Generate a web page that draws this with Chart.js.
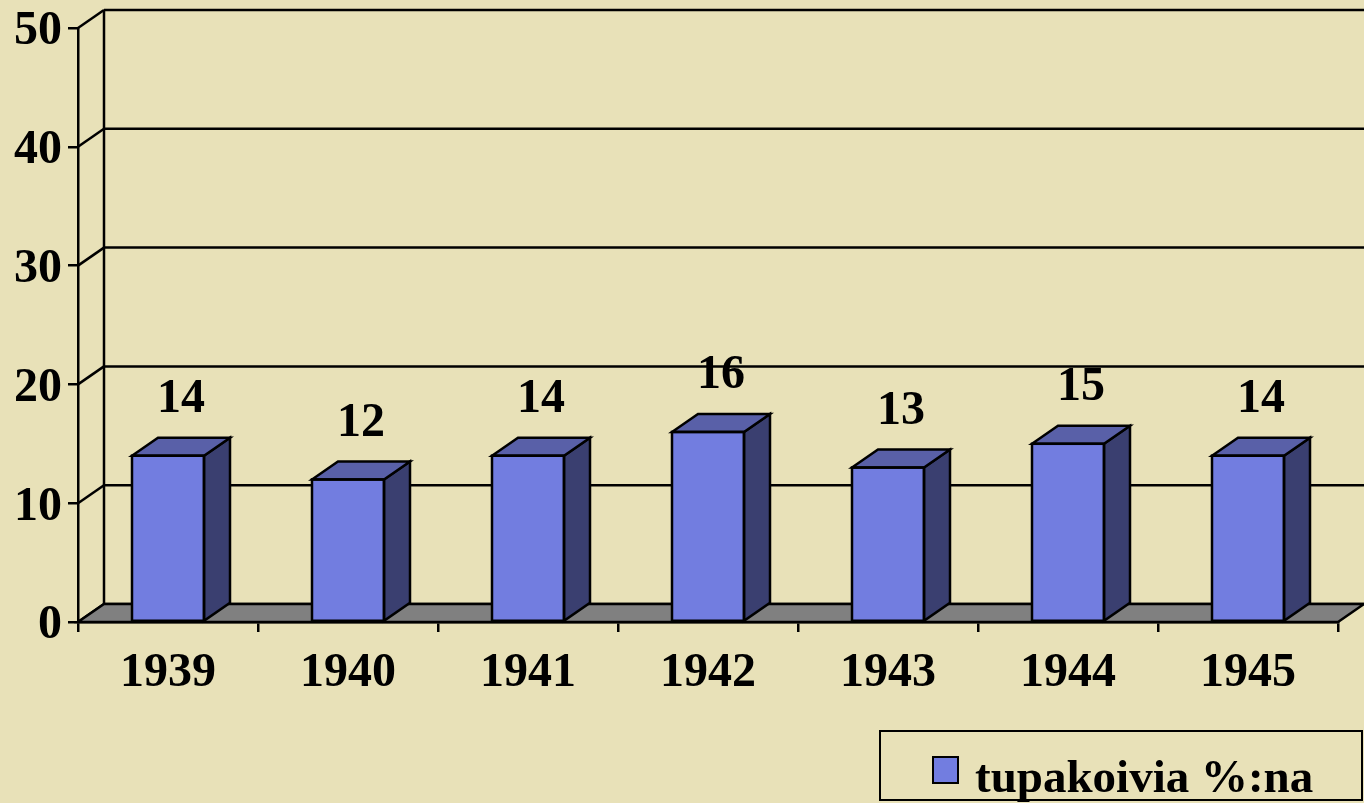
<!DOCTYPE html>
<html>
<head>
<meta charset="utf-8">
<style>
  html, body { margin: 0; padding: 0; background: #E8E1B8; }
  #wrap { width: 1364px; height: 803px; }
</style>
<script src="https://cdn.jsdelivr.net/npm/chart.js@4.4.1/dist/chart.umd.min.js"></script>
</head>
<body>
<div id="wrap"><canvas id="c" width="1364" height="803"></canvas></div>
<script>
const categories = ['1939', '1940', '1941', '1942', '1943', '1944', '1945'];
const smokersPct = [14, 12, 14, 16, 13, 15, 14];
const seriesLabel = 'tupakoivia %:na';
const yTicks = [0, 10, 20, 30, 40, 50];

const FONT = "'Liberation Serif', 'Times New Roman', serif";
const BG = '#E8E1B8';
const FRONT = '#727DE0';
const SIDE = '#3A3F70';
const TOP = '#5960A8';
const FLOOR = '#808080';
const DX = 26, DY = -18;
const LW = 2.5;

const threeD = {
  id: 'threeD',
  beforeDraw(chart) {
    const ctx = chart.ctx;
    ctx.save();
    ctx.fillStyle = BG;
    ctx.fillRect(0, 0, chart.width, chart.height);
    ctx.restore();
  },
  beforeDatasetsDraw(chart) {
    const ctx = chart.ctx;
    const y = chart.scales.y;
    const L = chart.chartArea.left, R = chart.chartArea.right;
    ctx.save();
    ctx.strokeStyle = '#000';
    ctx.lineWidth = LW;
    yTicks.forEach(v => {
      const py = y.getPixelForValue(v);
      ctx.beginPath();
      ctx.moveTo(L + DX, py + DY);
      ctx.lineTo(R + DX + 10, py + DY);
      ctx.stroke();
      ctx.beginPath();
      ctx.moveTo(L, py);
      ctx.lineTo(L + DX, py + DY);
      ctx.stroke();
    });
    ctx.beginPath();
    ctx.moveTo(L + DX, y.getPixelForValue(50) + DY);
    ctx.lineTo(L + DX, y.getPixelForValue(0) + DY);
    ctx.stroke();
    const b = y.getPixelForValue(0);
    ctx.beginPath();
    ctx.moveTo(L, b);
    ctx.lineTo(R, b);
    ctx.lineTo(R + DX, b + DY);
    ctx.lineTo(L + DX, b + DY);
    ctx.closePath();
    ctx.fillStyle = FLOOR;
    ctx.fill();
    ctx.stroke();
    ctx.restore();
  },
  afterDatasetsDraw(chart) {
    const ctx = chart.ctx;
    const meta = chart.getDatasetMeta(0);
    const data = chart.data.datasets[0].data;
    ctx.save();
    ctx.strokeStyle = '#000';
    ctx.lineWidth = LW;
    ctx.lineJoin = 'miter';
    meta.data.forEach((bar, i) => {
      const p = bar.getProps(['x', 'y', 'base', 'width'], true);
      const l = p.x - p.width / 2, r = p.x + p.width / 2;
      ctx.beginPath();
      ctx.moveTo(r, p.y);
      ctx.lineTo(r + DX, p.y + DY);
      ctx.lineTo(r + DX, p.base + DY);
      ctx.lineTo(r, p.base);
      ctx.closePath();
      ctx.fillStyle = SIDE;
      ctx.fill();
      ctx.stroke();
      ctx.beginPath();
      ctx.moveTo(l, p.y);
      ctx.lineTo(l + DX, p.y + DY);
      ctx.lineTo(r + DX, p.y + DY);
      ctx.lineTo(r, p.y);
      ctx.closePath();
      ctx.fillStyle = TOP;
      ctx.fill();
      ctx.stroke();
      ctx.strokeRect(l, p.y, p.width, p.base - p.y);
      ctx.fillStyle = '#000';
      ctx.font = 'bold 48px ' + FONT;
      ctx.textAlign = 'center';
      ctx.textBaseline = 'middle';
      ctx.fillText(String(data[i]), p.x + DX / 2, p.y - 56);
    });
    ctx.restore();
  },
  afterDraw(chart) {
    const ctx = chart.ctx;
    ctx.save();
    ctx.fillStyle = BG;
    ctx.strokeStyle = '#000';
    ctx.lineWidth = 2;
    ctx.fillRect(880, 731, 482, 69);
    ctx.strokeRect(880, 731, 482, 69);
    ctx.fillStyle = FRONT;
    ctx.fillRect(933, 757, 25, 26);
    ctx.lineWidth = 2;
    ctx.strokeRect(933, 757, 25, 26);
    ctx.fillStyle = '#000';
    ctx.font = 'bold 47px ' + FONT;
    ctx.textAlign = 'left';
    ctx.textBaseline = 'alphabetic';
    ctx.fillText(chart.data.datasets[0].label, 975, 792);
    ctx.restore();
  }
};

new Chart(document.getElementById('c'), {
  type: 'bar',
  data: {
    labels: categories,
    datasets: [{
      label: seriesLabel,
      data: smokersPct,
      backgroundColor: FRONT,
      borderColor: '#000',
      borderWidth: 0,
      barPercentage: 0.4,
      categoryPercentage: 1.0
    }]
  },
  options: {
    responsive: false,
    animation: false,
    devicePixelRatio: 1,
    layout: { padding: { top: 28, left: 0, right: 26, bottom: 0 } },
    plugins: {
      legend: { display: false },
      tooltip: { enabled: false }
    },
    scales: {
      x: {
        offset: true,
        grid: { display: true, drawOnChartArea: false, drawTicks: true, tickLength: 10, color: '#000', lineWidth: LW, offset: true },
        border: { display: true, color: '#000', width: LW },
        ticks: { color: '#000', font: { family: FONT, size: 48, weight: 'bold' }, padding: 13, maxRotation: 0, autoSkip: false },
        afterFit(s) { s.height = 181; s.paddingLeft = 0; s.paddingRight = 0; }
      },
      y: {
        min: 0, max: 50,
        grid: { display: true, drawOnChartArea: false, drawTicks: true, tickLength: 10, color: '#000', lineWidth: LW },
        border: { display: true, color: '#000', width: LW },
        ticks: { stepSize: 10, color: '#000', font: { family: FONT, size: 48, weight: 'bold' }, padding: 6, labelOffset: 4 },
        afterFit(s) { s.width = 78; s.paddingTop = 0; s.paddingBottom = 0; }
      }
    }
  },
  plugins: [threeD]
});
</script>
</body>
</html>
